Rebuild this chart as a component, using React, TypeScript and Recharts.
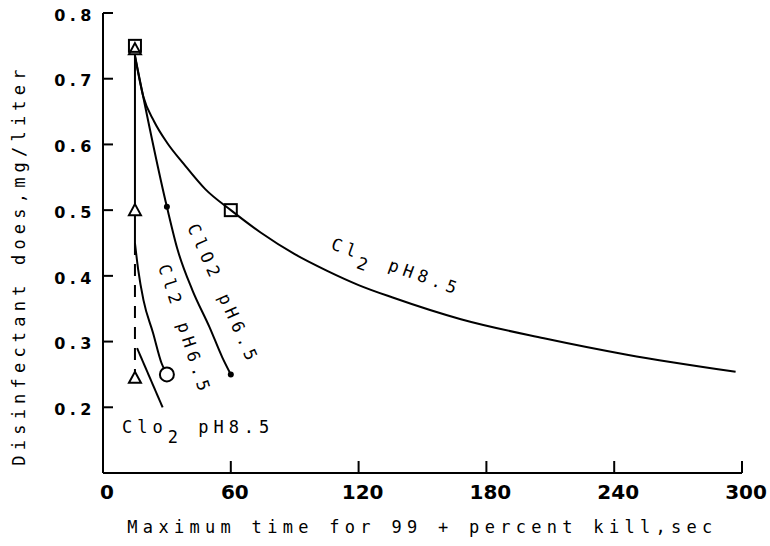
import { ComposedChart, Line, Scatter, XAxis, YAxis, ReferenceLine, ReferenceDot } from "recharts";

const MONO = "'DejaVu Sans Mono', monospace";

const xTicks = [0, 60, 120, 180, 240, 300];
const yTicks = [0.2, 0.3, 0.4, 0.5, 0.6, 0.7, 0.8];

// Cl2 pH8.5 curve (squares)
const cl2Ph85Time = [15, 19, 24, 30, 38, 48, 60, 74, 90, 105, 120, 136, 168, 207, 246, 297];
const cl2Ph85Dose = [0.735, 0.672, 0.635, 0.603, 0.57, 0.532, 0.5, 0.466, 0.433, 0.408, 0.386, 0.367, 0.334, 0.305, 0.28, 0.254];
const cl2Ph85MarkTime = [15, 60];
const cl2Ph85MarkDose = [0.75, 0.5];

// ClO2 pH6.5 curve (small dots)
const clo2Ph65Time = [15, 30, 35, 42, 50, 56, 60];
const clo2Ph65Dose = [0.735, 0.505, 0.44, 0.378, 0.322, 0.276, 0.25];
const clo2Ph65MarkTime = [30, 60];
const clo2Ph65MarkDose = [0.505, 0.25];

// Cl2 pH6.5 curve (circle)
const cl2Ph65Time = [15, 16.5, 19, 23.5, 27.5, 30];
const cl2Ph65Dose = [0.45, 0.41, 0.363, 0.313, 0.267, 0.25];
const cl2Ph65MarkTime = [30];
const cl2Ph65MarkDose = [0.25];

// ClO2 pH8.5 (triangles), solid then dashed
const clo2Ph85SolidTime = [15, 15];
const clo2Ph85SolidDose = [0.745, 0.45];
const clo2Ph85DashTime = [15, 15];
const clo2Ph85DashDose = [0.45, 0.25];
const clo2Ph85MarkTime = [15, 15, 15];
const clo2Ph85MarkDose = [0.745, 0.5, 0.245];

// pointer from the ClO2 pH8.5 label
const pointerTime = [28, 16];
const pointerDose = [0.2, 0.29];

const toPoints = (xs: number[], ys: number[]) => xs.map((x, i) => ({ x, y: ys[i] }));

const tickFont = "'DejaVu Sans', sans-serif";

const square = (p: any) => <rect x={p.cx - 6} y={p.cy - 6} width={12} height={12} fill="none" stroke="#000" strokeWidth={2} />;
const triangle = (p: any) => (
  <path d={`M${p.cx},${p.cy - 6} L${p.cx + 6},${p.cy + 5} L${p.cx - 6},${p.cy + 5} Z`} fill="#fff" stroke="#000" strokeWidth={2} />
);
const circle = (p: any) => <circle cx={p.cx} cy={p.cy} r={7} fill="#fff" stroke="#000" strokeWidth={2} />;
const dot = (p: any) => <circle cx={p.cx} cy={p.cy} r={3} fill="#000" />;

const textStyle = { fontFamily: MONO, fontSize: 17, letterSpacing: 5, fill: "#000" };

const rotated = (label: string, angle: number) => (p: any) => (
  <text x={p.cx} y={p.cy} transform={`rotate(${angle} ${p.cx} ${p.cy})`} textAnchor="middle" dominantBaseline="central" {...textStyle}>
    {label}
  </text>
);

const cl2Ph85Label = (p: any) => (
  <text x={p.cx} y={p.cy} transform={`rotate(20 ${p.cx} ${p.cy})`} textAnchor="middle" dominantBaseline="central" {...textStyle}>
    Cl<tspan dy={9}>2</tspan>
    <tspan dy={-9}> pH8.5</tspan>
  </text>
);

const clo2Ph85Label = (p: any) => (
  <text x={p.cx} y={p.cy} textAnchor="start" {...textStyle}>
    Clo<tspan dy={10}>2</tspan>
    <tspan dy={-10}> pH8.5</tspan>
  </text>
);

export default function App() {
  return (
    <div style={{ position: "absolute", left: 0, top: 0 }}>
      <ComposedChart width={770} height={546} margin={{ top: 13, right: 28, bottom: 33, left: 48 }}>
        <XAxis
          type="number"
          dataKey="x"
          domain={[0, 300]}
          ticks={xTicks}
          interval={0}
          allowDataOverflow
          height={40}
          tickSize={-12}
          tickMargin={24}
          tickLine={{ stroke: "#000", strokeWidth: 2 }}
          tick={{ fill: "#000", fontFamily: tickFont, fontWeight: "bold", fontSize: 20, dx: 4 }}
          axisLine={{ stroke: "#000", strokeWidth: 2 }}
          label={{
            content: (p: any) => (
              <text x={p.viewBox.x + p.viewBox.width / 2} y={p.viewBox.y + 60} textAnchor="middle" {...textStyle} letterSpacing={5.3}>
                Maximum time for 99 + percent kill,sec
              </text>
            ),
          }}
        />
        <YAxis
          type="number"
          dataKey="y"
          domain={[0.1, 0.8]}
          ticks={yTicks}
          interval={0}
          allowDataOverflow
          width={55}
          tickSize={-10}
          tickMargin={17}
          tickLine={{ stroke: "#000", strokeWidth: 2 }}
          tick={{ fill: "#000", fontFamily: tickFont, fontWeight: "bold", fontSize: 16, letterSpacing: 4.5, dy: 2 }}
          tickFormatter={(v: number) => v.toFixed(1)}
          axisLine={{ stroke: "#000", strokeWidth: 2 }}
          label={{
            content: (p: any) => {
              const cx = p.viewBox.x - 23;
              const cy = p.viewBox.y + p.viewBox.height / 2 + 22;
              return (
                <text x={cx} y={cy} transform={`rotate(-90 ${cx} ${cy})`} textAnchor="middle" {...textStyle} letterSpacing={5.2}>
                  Disinfectant does,mg/liter
                </text>
              );
            },
          }}
        />

        <Line data={toPoints(cl2Ph85Time, cl2Ph85Dose)} dataKey="y" type="monotone" stroke="#000" strokeWidth={2} dot={false} isAnimationActive={false} />
        <Line data={toPoints(clo2Ph65Time, clo2Ph65Dose)} dataKey="y" type="monotone" stroke="#000" strokeWidth={2} dot={false} isAnimationActive={false} />
        <Line data={toPoints(cl2Ph65Time, cl2Ph65Dose)} dataKey="y" type="monotone" stroke="#000" strokeWidth={2} dot={false} isAnimationActive={false} />
        <Line data={toPoints(clo2Ph85SolidTime, clo2Ph85SolidDose)} dataKey="y" type="linear" stroke="#000" strokeWidth={2} dot={false} isAnimationActive={false} />
        <Line data={toPoints(clo2Ph85DashTime, clo2Ph85DashDose)} dataKey="y" type="linear" stroke="#000" strokeWidth={2} strokeDasharray="12 9" dot={false} isAnimationActive={false} />

        <ReferenceLine segment={toPoints(pointerTime, pointerDose)} stroke="#000" strokeWidth={2} ifOverflow="visible" />

        <Scatter data={toPoints(clo2Ph85MarkTime, clo2Ph85MarkDose)} shape={triangle} isAnimationActive={false} />
        <Scatter data={toPoints(cl2Ph85MarkTime, cl2Ph85MarkDose)} shape={square} isAnimationActive={false} />
        <Scatter data={toPoints(clo2Ph65MarkTime, clo2Ph65MarkDose)} shape={dot} isAnimationActive={false} />
        <Scatter data={toPoints(cl2Ph65MarkTime, cl2Ph65MarkDose)} shape={circle} isAnimationActive={false} />

        <ReferenceDot x={56.6} y={0.372} r={0} shape={rotated("ClO2 pH6.5", 66)} />
        <ReferenceDot x={38.5} y={0.318} r={0} shape={rotated("Cl2 pH6.5", 72)} />
        <ReferenceDot x={137.8} y={0.414} r={0} shape={cl2Ph85Label} />
        <ReferenceDot x={8.9} y={0.161} r={0} shape={clo2Ph85Label} />
      </ComposedChart>
    </div>
  );
}
